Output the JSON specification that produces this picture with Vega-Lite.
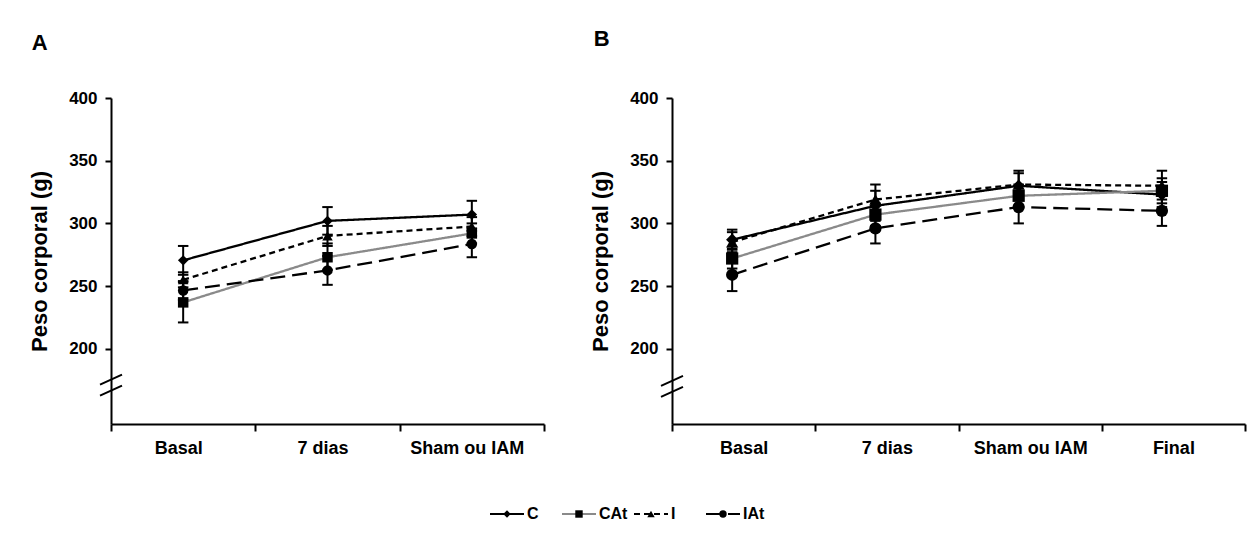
{
  "$schema": "https://vega.github.io/schema/vega-lite/v6.json",
  "background": "white",
  "padding": {"left": 28, "top": 28, "right": 5, "bottom": 5},
  "config": {
    "view": {"stroke": null},
    "font": "Liberation Sans",
    "axis": {
      "domainColor": "black", "domainWidth": 2, "tickColor": "black", "tickWidth": 2,
      "labelColor": "black", "labelFontWeight": "bold", "titleColor": "black", "titleFontWeight": "bold", "grid": false
    }
  },
  "datasets": {
    "a": [
      {"group": "C", "time": "Basal", "mean": 270.5, "lo": 259, "hi": 282},
      {"group": "CAt", "time": "Basal", "mean": 237, "lo": 221, "hi": 253},
      {"group": "I", "time": "Basal", "mean": 255, "lo": 249, "hi": 261},
      {"group": "IAt", "time": "Basal", "mean": 246.5, "lo": 239, "hi": 254},
      {"group": "C", "time": "7 dias", "mean": 302, "lo": 291, "hi": 313},
      {"group": "CAt", "time": "7 dias", "mean": 273, "lo": 263, "hi": 284},
      {"group": "I", "time": "7 dias", "mean": 290, "lo": 282, "hi": 298},
      {"group": "IAt", "time": "7 dias", "mean": 262.5, "lo": 251, "hi": 274},
      {"group": "C", "time": "Sham ou IAM", "mean": 307, "lo": 296, "hi": 318},
      {"group": "CAt", "time": "Sham ou IAM", "mean": 292, "lo": 284, "hi": 300},
      {"group": "I", "time": "Sham ou IAM", "mean": 297.5, "lo": 290, "hi": 305},
      {"group": "IAt", "time": "Sham ou IAM", "mean": 283.5, "lo": 273, "hi": 294}
    ],
    "b": [
      {"group": "C", "time": "Basal", "mean": 287, "lo": 279, "hi": 295},
      {"group": "CAt", "time": "Basal", "mean": 272, "lo": 264, "hi": 280},
      {"group": "I", "time": "Basal", "mean": 285, "lo": 277, "hi": 293},
      {"group": "IAt", "time": "Basal", "mean": 259, "lo": 246, "hi": 272},
      {"group": "C", "time": "7 dias", "mean": 314, "lo": 302, "hi": 326},
      {"group": "CAt", "time": "7 dias", "mean": 307, "lo": 298, "hi": 316},
      {"group": "I", "time": "7 dias", "mean": 319, "lo": 307, "hi": 331},
      {"group": "IAt", "time": "7 dias", "mean": 296, "lo": 284, "hi": 308},
      {"group": "C", "time": "Sham ou IAM", "mean": 330, "lo": 320, "hi": 340},
      {"group": "CAt", "time": "Sham ou IAM", "mean": 322, "lo": 313, "hi": 331},
      {"group": "I", "time": "Sham ou IAM", "mean": 331, "lo": 320, "hi": 342},
      {"group": "IAt", "time": "Sham ou IAM", "mean": 313, "lo": 300, "hi": 326},
      {"group": "C", "time": "Final", "mean": 323, "lo": 313, "hi": 333},
      {"group": "CAt", "time": "Final", "mean": 326, "lo": 316, "hi": 336},
      {"group": "I", "time": "Final", "mean": 330, "lo": 319, "hi": 342},
      {"group": "IAt", "time": "Final", "mean": 310, "lo": 298, "hi": 322}
    ],
    "legend": [
      {"group": "C", "end": "start"}, {"group": "C", "end": "end"},
      {"group": "CAt", "end": "start"}, {"group": "CAt", "end": "end"},
      {"group": "I", "end": "start"}, {"group": "I", "end": "end"},
      {"group": "IAt", "end": "start"}, {"group": "IAt", "end": "end"}
    ]
  },
  "vconcat": [
    {
      "hconcat": [
        {
          "title": {"text": "A", "anchor": "start", "frame": "bounds", "fontSize": 22, "fontWeight": "bold", "offset": 34, "dx": 3, "color": "black"},
          "width": 433, "height": 326,
          "data": {"name": "a"},
          "encoding": {
            "x": {"field": "time", "type": "nominal", "sort": ["Basal", "7 dias", "Sham ou IAM"],
              "scale": {"type": "band", "paddingInner": 0, "paddingOuter": 0},
              "axis": {"title": null, "labelAngle": 0, "tickBand": "extent", "labelFontSize": 18, "tickSize": 7, "labelPadding": 8, "labelOffset": -5}}
          },
          "layer": [
            {
              "mark": {"type": "rule", "strokeWidth": 2, "color": "black"},
              "encoding": {
                "y": {"field": "lo", "type": "quantitative", "title": "Peso corporal (g)", "scale": {"domain": [150, 400]},
                  "axis": {"values": [200, 250, 300, 350, 400], "labelFontSize": 17, "tickSize": 6, "labelPadding": 8, "titleFontSize": 22, "titlePadding": 17}},
                "y2": {"field": "hi"}
              }
            },
            {
              "mark": {"type": "point", "shape": "stroke", "filled": false, "stroke": "black", "strokeWidth": 2, "size": 110, "opacity": 1},
              "encoding": {"y": {"field": "lo", "type": "quantitative", "title": "Peso corporal (g)", "scale": {"domain": [150, 400]}}}
            },
            {
              "mark": {"type": "point", "shape": "stroke", "filled": false, "stroke": "black", "strokeWidth": 2, "size": 110, "opacity": 1},
              "encoding": {"y": {"field": "hi", "type": "quantitative", "title": "Peso corporal (g)", "scale": {"domain": [150, 400]}}}
            },
            {
              "mark": {"type": "line", "strokeWidth": 2.3},
              "encoding": {
                "y": {"field": "mean", "type": "quantitative", "title": "Peso corporal (g)", "scale": {"domain": [150, 400]}},
                "color": {"field": "group", "type": "nominal", "legend": null, "scale": {"domain": ["C", "CAt", "I", "IAt"], "range": ["black", "#8a8a8a", "black", "black"]}},
                "strokeDash": {"field": "group", "type": "nominal", "legend": null, "scale": {"domain": ["C", "CAt", "I", "IAt"], "range": [[1, 0], [1, 0], [6, 4], [15, 7]]}}
              }
            },
            {
              "mark": {"type": "point", "filled": true, "color": "black", "opacity": 1, "size": 110},
              "encoding": {
                "y": {"field": "mean", "type": "quantitative", "title": "Peso corporal (g)", "scale": {"domain": [150, 400]}},
                "shape": {"field": "group", "type": "nominal", "legend": null, "scale": {"domain": ["C", "CAt", "I", "IAt"], "range": ["diamond", "square", "triangle-up", "circle"]}}
              }
            },
            {
              "data": {"values": [{}]},
              "mark": {"type": "point", "shape": "M -1 -0.05 L 1 -0.95 M -1 0.95 L 1 0.05", "filled": false, "stroke": "black", "strokeWidth": 2, "size": 484, "opacity": 1},
              "encoding": {
                "x": {"datum": "Basal", "type": "nominal", "bandPosition": 0},
                "y": {"datum": 171, "type": "quantitative"}
              }
            }
          ]
        },
        {
          "title": {"text": "B", "anchor": "start", "frame": "bounds", "fontSize": 22, "fontWeight": "bold", "offset": 38, "dx": 4, "color": "black"},
          "width": 573, "height": 326,
          "data": {"name": "b"},
          "encoding": {
            "x": {"field": "time", "type": "nominal", "sort": ["Basal", "7 dias", "Sham ou IAM", "Final"], "bandPosition": 0.42,
              "scale": {"type": "band", "paddingInner": 0, "paddingOuter": 0},
              "axis": {"title": null, "labelAngle": 0, "tickBand": "extent", "labelFontSize": 18, "tickSize": 7, "labelPadding": 8}}
          },
          "layer": [
            {
              "mark": {"type": "rule", "strokeWidth": 2, "color": "black"},
              "encoding": {
                "y": {"field": "lo", "type": "quantitative", "title": "Peso corporal (g)", "scale": {"domain": [150, 400]},
                  "axis": {"values": [200, 250, 300, 350, 400], "labelFontSize": 17, "tickSize": 6, "labelPadding": 8, "titleFontSize": 22, "titlePadding": 17}},
                "y2": {"field": "hi"}
              }
            },
            {
              "mark": {"type": "point", "shape": "stroke", "filled": false, "stroke": "black", "strokeWidth": 2, "size": 110, "opacity": 1},
              "encoding": {"y": {"field": "lo", "type": "quantitative", "title": "Peso corporal (g)", "scale": {"domain": [150, 400]}}}
            },
            {
              "mark": {"type": "point", "shape": "stroke", "filled": false, "stroke": "black", "strokeWidth": 2, "size": 110, "opacity": 1},
              "encoding": {"y": {"field": "hi", "type": "quantitative", "title": "Peso corporal (g)", "scale": {"domain": [150, 400]}}}
            },
            {
              "mark": {"type": "line", "strokeWidth": 2.3},
              "encoding": {
                "y": {"field": "mean", "type": "quantitative", "title": "Peso corporal (g)", "scale": {"domain": [150, 400]}},
                "color": {"field": "group", "type": "nominal", "legend": null, "scale": {"domain": ["C", "CAt", "I", "IAt"], "range": ["black", "#8a8a8a", "black", "black"]}},
                "strokeDash": {"field": "group", "type": "nominal", "legend": null, "scale": {"domain": ["C", "CAt", "I", "IAt"], "range": [[1, 0], [1, 0], [6, 4], [15, 7]]}}
              }
            },
            {
              "mark": {"type": "point", "filled": true, "color": "black", "opacity": 1, "size": 150},
              "encoding": {
                "y": {"field": "mean", "type": "quantitative", "title": "Peso corporal (g)", "scale": {"domain": [150, 400]}},
                "shape": {"field": "group", "type": "nominal", "legend": null, "scale": {"domain": ["C", "CAt", "I", "IAt"], "range": ["diamond", "square", "triangle-up", "circle"]}}
              }
            },
            {
              "data": {"values": [{}]},
              "mark": {"type": "point", "shape": "M -1 -0.05 L 1 -0.95 M -1 0.95 L 1 0.05", "filled": false, "stroke": "black", "strokeWidth": 2, "size": 484, "opacity": 1},
              "encoding": {
                "x": {"datum": "Basal", "type": "nominal", "bandPosition": 0},
                "y": {"datum": 170, "type": "quantitative"}
              }
            }
          ]
        }
      ],
      "spacing": 44
    },
    {
      "width": 1217, "height": 20,
      "data": {"name": "legend"},
      "encoding": {
        "x": {"field": "group", "type": "nominal", "sort": ["C", "CAt", "I", "IAt"], "scale": {"type": "band", "paddingInner": 0, "paddingOuter": 0, "range": [379, 667]}, "axis": null},
        "y": {"datum": 0, "type": "quantitative", "scale": {"domain": [-1, 1]}, "axis": null}
      },
      "layer": [
        {
          "mark": {"type": "line", "strokeWidth": 2},
          "encoding": {
            "xOffset": {"field": "end", "type": "nominal", "scale": {"type": "point", "domain": ["start", "end"], "range": [0, 34], "padding": 0}},
            "color": {"field": "group", "type": "nominal", "legend": null, "scale": {"domain": ["C", "CAt", "I", "IAt"], "range": ["black", "#8a8a8a", "black", "black"]}},
            "strokeDash": {"field": "group", "type": "nominal", "legend": null, "scale": {"domain": ["C", "CAt", "I", "IAt"], "range": [[1, 0], [1, 0], [6, 4], [15, 7]]}}
          }
        },
        {
          "transform": [{"filter": "datum.end == 'start'"}],
          "mark": {"type": "point", "filled": true, "color": "black", "opacity": 1, "size": 55},
          "encoding": {
            "x": {"field": "group", "type": "nominal", "sort": ["C", "CAt", "I", "IAt"], "bandPosition": 0.236},
            "shape": {"field": "group", "type": "nominal", "legend": null, "scale": {"domain": ["C", "CAt", "I", "IAt"], "range": ["diamond", "square", "triangle-up", "circle"]}}
          }
        },
        {
          "transform": [{"filter": "datum.end == 'start'"}],
          "mark": {"type": "text", "align": "left", "baseline": "middle", "fontSize": 16, "fontWeight": "bold", "color": "black"},
          "encoding": {
            "x": {"field": "group", "type": "nominal", "sort": ["C", "CAt", "I", "IAt"], "bandPosition": 0.514},
            "text": {"field": "group"}
          }
        }
      ]
    }
  ],
  "spacing": 47,
  "resolve": {"scale": {"x": "independent", "y": "independent"}}
}
